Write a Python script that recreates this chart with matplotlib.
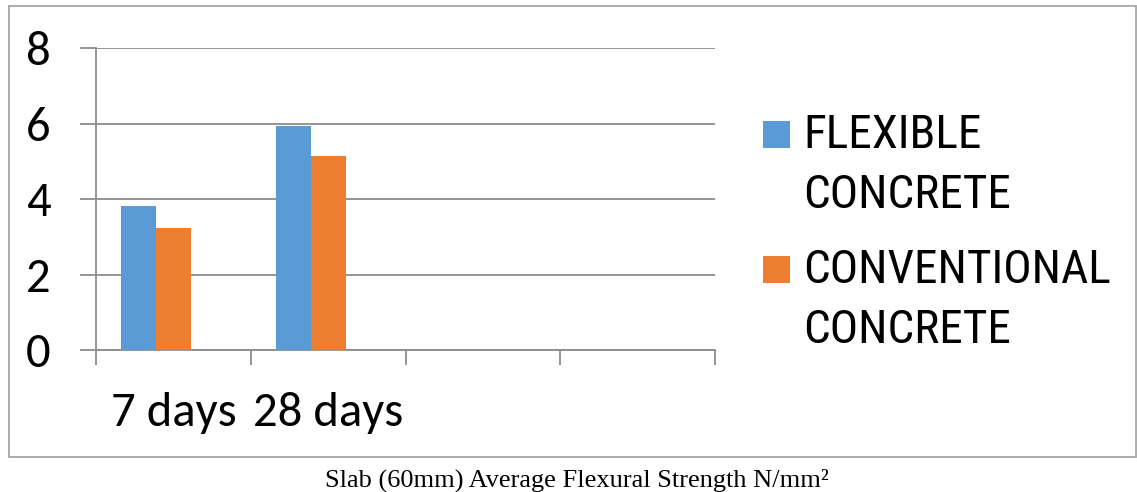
import numpy as np
import matplotlib
matplotlib.use("Agg")
import matplotlib.pyplot as plt
from matplotlib.patches import Rectangle

# data
categories = ["7 days", "28 days"]
n_slots = 4
series_names = ["FLEXIBLE\nCONCRETE", "CONVENTIONAL\nCONCRETE"]
flexible = [3.82, 5.93]
conventional = [3.23, 5.15]
colors = ["#5B9BD5", "#ED7D31"]
yticks = [0, 2, 4, 6, 8]

W, H = 1137, 492
fig = plt.figure(figsize=(W/100, H/100), dpi=100)
ax = fig.add_axes([96/W, (H-350)/H, (715-96)/W, (350-48)/H])

tick_font = ["Carlito", "DejaVu Sans"]
leg_font = ["Roboto Condensed", "DejaVu Sans"]
grey = "#8C8C8C"

x = np.arange(len(categories))
w = 35/155
ax.bar(x - w, flexible, w, color=colors[0], align="center", zorder=3)
ax.bar(x, conventional, w, color=colors[1], align="center", zorder=3)

ax.set_xlim(-0.5, n_slots - 0.5)
ax.set_ylim(0, 8)
ax.set_yticks(yticks)
ax.set_yticklabels([str(v) for v in yticks], fontsize=35, family=tick_font)
ax.yaxis.grid(True, color=grey, lw=1.3, zorder=0)
ax.tick_params(axis="y", length=11.5, width=1.3, color=grey, pad=21)

ax.set_xticks(x)
ax.set_xticklabels(categories, fontsize=35, family=tick_font)
ax.set_xticks(np.arange(n_slots + 1) - 0.5, minor=True)
ax.tick_params(axis="x", which="major", length=0, pad=30)
ax.tick_params(axis="x", which="minor", length=11, width=1.3, color=grey)

for s in ["top", "right"]:
    ax.spines[s].set_visible(False)
for s in ["left", "bottom"]:
    ax.spines[s].set_color(grey)
    ax.spines[s].set_linewidth(1.3)

# legend drawn by hand so the square sits on the first line
leg_baselines = [148, 283]
line_gap = 60
for name, c, b in zip(series_names, colors, leg_baselines):
    fig.patches.append(Rectangle((763/W, (H-b)/H), 27/W, 27/H, transform=fig.transFigure,
                                 facecolor=c, edgecolor="none"))
    for i, line in enumerate(name.split("\n")):
        fig.text(803/W, (H - b - i*line_gap)/H, line, fontsize=34, family=leg_font,
                 va="baseline", ha="left")

# chart border
fig.patches.append(Rectangle((9/W, (H-457)/H), (1136-9)/W, (457-6)/H, transform=fig.transFigure,
                             facecolor="none", edgecolor="#A6A6A6", lw=1.3))

fig.text(577/W, (H-487)/H, "Slab (60mm) Average Flexural Strength N/mm²",
         fontsize=19, family="Liberation Serif", ha="center", va="baseline")

fig.savefig("out.png", dpi=100)
